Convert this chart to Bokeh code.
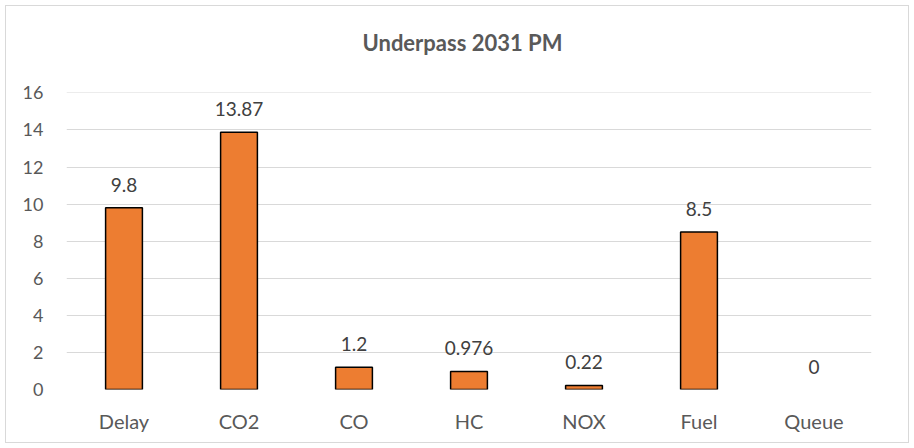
from bokeh.plotting import figure
from bokeh.models import ColumnDataSource, LabelSet, Title, Range1d, FixedTicker
from bokeh.core.properties import value
from bokeh.embed import file_html
from bokeh.resources import INLINE

title_text = "Underpass 2031 PM"
categories = ["Delay", "CO2", "CO", "HC", "NOX", "Fuel", "Queue"]
values = [9.8, 13.87, 1.2, 0.976, 0.22, 8.5, 0]
labels = ["9.8", "13.87", "1.2", "0.976", "0.22", "8.5", "0"]
y_ticks = [0, 2, 4, 6, 8, 10, 12, 14, 16]

FONT = "Lato"
GREY = "#595959"

src = ColumnDataSource(dict(cat=categories, val=values, lab=labels,
                            la=[1.0 if v > 0 else 0.0 for v in values]))

p = figure(x_range=categories, y_range=Range1d(0, 16.02), width=904, height=438,
           output_backend="svg", toolbar_location=None,
           min_border_left=60, min_border_right=39, min_border_top=86, min_border_bottom=55)
p.margin = (5, 5, 5, 5)
p.styles = {"border": "1px solid #d9d9d9"}

# spacer (nearest the frame) then the real title above it
p.add_layout(Title(text=" ", text_font_size="1px", standoff=34), "above")
p.add_layout(Title(text=title_text, align="left", offset=296, standoff=0,
                   text_font=FONT, text_font_size="22px", text_font_style="bold",
                   text_color=GREY), "above")

p.vbar(x="cat", top="val", width=0.32, source=src, fill_color="#ED7D31",
       line_color="black", line_width=1.5, line_alpha="la")

p.add_layout(LabelSet(x="cat", y="val", text="lab", source=src, text_align="center",
                      text_baseline="bottom", y_offset=16, text_font_size="19px",
                      text_color="#404040", text_font=value(FONT)))

p.outline_line_color = None
p.xgrid.grid_line_color = None
p.ygrid.grid_line_color = "#d9d9d9"
p.ygrid.grid_line_width = 1
p.yaxis.ticker = FixedTicker(ticks=y_ticks)
for ax in (p.xaxis, p.yaxis):
    ax.axis_line_color = None
    ax.major_tick_line_color = None
    ax.minor_tick_line_color = None
    ax.major_label_text_font = FONT
    ax.major_label_text_color = GREY
p.yaxis.major_label_text_font_size = "18px"
p.xaxis.major_label_text_font_size = "20px"
p.yaxis.major_label_standoff = 17
p.xaxis.major_label_standoff = 13

open("out.html", "w").write(file_html(p, INLINE))
